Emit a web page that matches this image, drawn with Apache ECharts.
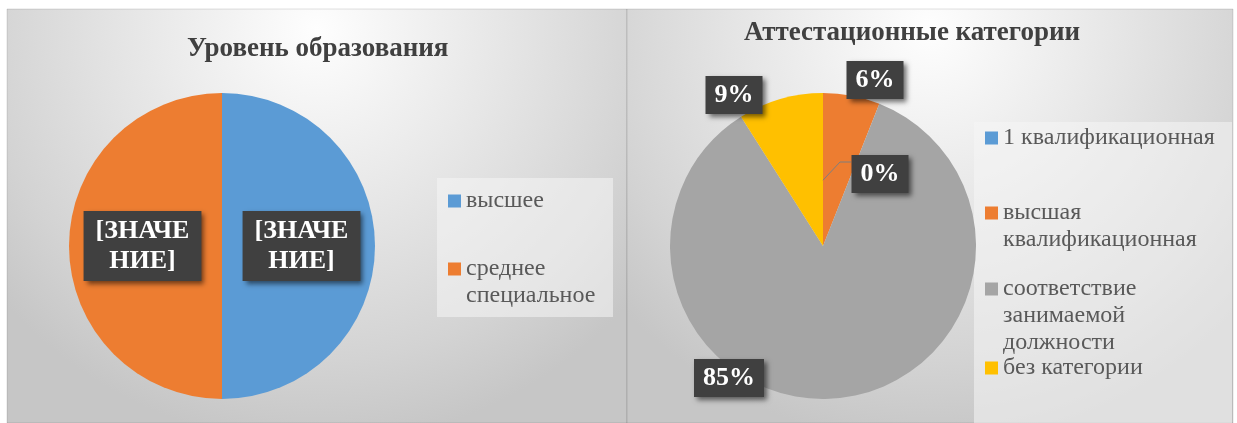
<!DOCTYPE html>
<html>
<head>
<meta charset="utf-8">
<script src="https://cdn.jsdelivr.net/npm/echarts@6/dist/echarts.min.js"></script>
<style>
  html, body { margin: 0; padding: 0; background: #fff; }
  #chart { width: 1237px; height: 423px; }
</style>
</head>
<body>
<div id="chart"></div>
<script>
  // левая диаграмма
  var eduTitle = 'Уровень образования'
  var eduNames = ['высшее', 'среднее специальное']
  var eduValues = [50, 50]
  var eduColors = ['#5b9bd5', '#ed7d31']

  // правая диаграмма, проценты
  var catTitle = 'Аттестационные категории'
  var catNames = ['1 квалификационная', 'высшая квалификационная', 'соответствие занимаемой должности', 'без категории']
  var catValues = [0, 6, 85, 9]
  var catColors = ['#5b9bd5', '#ed7d31', '#a5a5a5', '#ffc000']

  var serif = '"Liberation Serif", "Times New Roman", serif'
  var lh = 27 // межстрочный интервал легенды
  var pieR = 153
  var eduCenter = [222, 246]
  var catCenter = [823, 246]

  // положения подписей правой диаграммы (как в исходнике)
  var catLabelPos = [[880, 174], [875, 80], [729, 378], [734, 95]]

  var labelBox = {
    show: true,
    color: '#fff',
    fontFamily: serif,
    fontWeight: 'bold',
    fontSize: 26,
    lineHeight: 30,
    backgroundColor: '#404040',
    padding: [4, 9, 4, 9],
    shadowColor: 'rgba(0,0,0,0.55)',
    shadowBlur: 5,
    shadowOffsetX: 3,
    shadowOffsetY: 3
  }

  function panelFill () {
    return {
      type: 'radial', x: 0.5, y: 0.05, r: 1.0,
      colorStops: [
        { offset: 0, color: '#fefefe' },
        { offset: 0.45, color: '#e6e6e6' },
        { offset: 0.8, color: '#d3d3d3' },
        { offset: 1, color: '#c6c6c6' }
      ]
    }
  }

  // одна легенда на один пункт: значок у первой строки
  function oneLegend (name, left, iconY, wrap) {
    var n = wrap ? name.split(' ').length : 1
    return {
      data: [name],
      left: left,
      top: iconY - (2 * n - 1) * lh / 2 + 2,
      padding: 0,
      icon: 'rect',
      itemWidth: 13,
      itemHeight: 13,
      selectedMode: false,
      formatter: function (nm) {
        if (!wrap) return nm
        var parts = nm.split(' ')
        return new Array(parts.length).join('\n') + parts.join('\n')
      },
      textStyle: {
        fontFamily: serif,
        fontSize: 24,
        lineHeight: lh,
        color: '#595959'
      }
    }
  }

  var eduData = eduNames.map(function (nm, i) {
    return { name: nm, value: eduValues[i], itemStyle: { color: eduColors[i] } }
  })
  var catData = catNames.map(function (nm, i) {
    return { name: nm, value: catValues[i], itemStyle: { color: catColors[i] } }
  })

  // выноска к подписи 0% (от нулевого сектора к левому краю подписи)
  var zp = catLabelPos[0]
  var leaderStart = [catCenter[0], catCenter[1] - pieR * 0.43]
  var leaderEnd = [zp[0] - 29, zp[1] - 12]

  var chart = echarts.init(document.getElementById('chart'))
  chart.setOption({
    animation: false,
    graphic: [
      { type: 'rect', z: -10, shape: { x: 7, y: 9, width: 620, height: 414 }, style: { fill: panelFill(), stroke: 'rgba(0,0,0,0.12)' } },
      { type: 'rect', z: -10, shape: { x: 627, y: 9, width: 606, height: 414 }, style: { fill: panelFill(), stroke: 'rgba(0,0,0,0.12)' } },
      { type: 'rect', z: -5, shape: { x: 437, y: 178, width: 176, height: 139 }, style: { fill: 'rgba(245,245,245,0.55)' } },
      { type: 'rect', z: -5, shape: { x: 974, y: 122, width: 258, height: 301 }, style: { fill: 'rgba(245,245,245,0.55)' } },
      {
        type: 'polyline', z: 100,
        shape: { points: [leaderStart, [leaderEnd[0] - 11, leaderEnd[1]], leaderEnd] },
        style: { stroke: '#7f7f7f', lineWidth: 1, fill: null }
      }
    ],
    title: [
      { text: eduTitle, left: 187, top: 36, padding: 0, textStyle: { fontFamily: serif, fontWeight: 'bold', fontSize: 27, color: '#404040' } },
      { text: catTitle, left: 744, top: 20, padding: 0, textStyle: { fontFamily: serif, fontWeight: 'bold', fontSize: 27, color: '#404040' } }
    ],
    legend: [
      oneLegend(eduNames[0], 448, 199, false),
      oneLegend(eduNames[1], 448, 267, true),
      oneLegend(catNames[0], 985, 136, false),
      oneLegend(catNames[1], 985, 211, true),
      oneLegend(catNames[2], 985, 287, true),
      oneLegend(catNames[3], 985, 366, false)
    ],
    series: [
      {
        type: 'pie',
        center: eduCenter,
        radius: pieR,
        startAngle: 90,
        clockwise: true,
        label: Object.assign({}, labelBox, {
          position: 'inside',
          padding: [5, 12, 5, 12],
          formatter: '[ЗНАЧЕ\nНИЕ]'
        }),
        labelLine: { show: false },
        emphasis: { disabled: true },
        data: eduData
      },
      {
        type: 'pie',
        center: catCenter,
        radius: pieR,
        startAngle: 90,
        clockwise: true,
        avoidLabelOverlap: false,
        label: Object.assign({}, labelBox, {
          position: 'outside',
          formatter: '{d}%'
        }),
        labelLine: { show: false },
        labelLayout: function (params) {
          var p = catLabelPos[params.dataIndex]
          return { x: p[0], y: p[1], align: 'center', verticalAlign: 'middle' }
        },
        emphasis: { disabled: true },
        data: catData
      }
    ]
  })
</script>
</body>
</html>
